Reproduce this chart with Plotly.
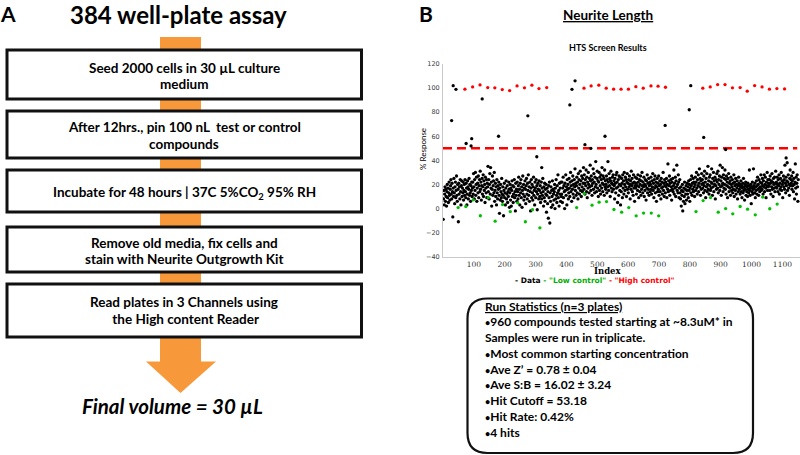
import plotly.graph_objects as go

# ---------------- data ----------------
plate_size = 384
data_plate1 = [
 -9, 8, 15, 3, 12, 18, 6, 16, 10, 2, 14, 20, 9, 17, 5, 13, 22, 11, 7, 16,
 19, 24, 12, 8, 21, 14, -7, 17, 10, 25, 13, 4, 18, 22, 9, 15, 27, 11, 6, 20,
 16, -11, 21, 12, 18, 8, 24, 14, 3, 19, 23, 10, 17, 13, 22, 7, 15, 20, 11, 24,
 14, 9, 21, 17, 3, 12, 23, 18, 8, 16, 25, 11, 20, 13, 6, 19, 15, 22, 10, 17,
 22, 12, 29, 18, 8, 24, 15, 30, 11, 20, 26, 6, 17, 21, 13, 27, 9, 19, 24, 14,
 31, 16, 22, 7, 19, 25, 12, 18, 28, 10, 23, 15, 20, 5, 26, 17, 13, 24, 9, 21,
 18, 35, 14, 24, 8, 20, 29, 12, 34, 17, 22, 2, 16, 27, 11, 19, 23, 13, 30, 6,
 15, 21, 10, 18, 3, 24, 13, 8, 19, 16, 22, 11, -4, 17, 7, 20, 14, 9, 25, 12,
 6, 18, 11, -6, 15, 21, 9, 13, 3, 17, 23, 8, 12, 19, 5, 14, 10, 22, 16, 1,
 13, 20, 7, 17, 2, 15, 23, 10, 19, 5, 12, 18, 24, 9, 14, -2, 21, 11, 16, 6,
 22, 14, 8, 19, 26, 11, 16, 3, 21, 13, 24, 9, 18, 1, 15, 27, 12, 20, 7, 17,
 10, 23, 16, 4, 19, 25, 12, 8, 21, 15, 28, 11, 18, 6, 22, 14, -2, 17, 24, 9,
 20, 13, 7, 18, 26, 11, 15, 3, 22, 17, 9, 24, 14, 19, -1, 12, 21, 16, 8, 23,
 15, 10, 19, 5, 13, 22, 8, 17, 11, 25, 14, 2, 18, 9, 21, 6, 16, 12, 20, -3,
 11, 17, 4, 14, -8, 19, 9, 22, -12, 13, 6, 18, 1, 15, 10, 23, 3, 16, 12, 7,
 14, 20, 0, 17, 8, 24, 11, 5, 19, 13, 28, 9, 15, 2, 21, 12, 17, 6, 22, 10,
]
data_plate2 = [
 12, 22, 5, 17, 26, 9, 19, 14, 0, 21, 15, 28, 11, 18, 3, 24, 16, 20, 8, 13,
 25, 17, 10, 22, 30, 14, 19, 6, 23, 16, 27, 12, 20, 9, 24, 18, 33, 15, 21, 11,
 19, 26, 13, 22, 8, 29, 17, 24, 12, 20, 31, 15, 23, 10, 27, 18, 14, 25, 21, 34,
 16, 28, 21, 12, 24, 19, 32, 14, 26, 9, 22, 17, 30, 20, 13, 25, 18, 36, 23, 15,
 27, 19, 11, 24, 21, 33, 16, 29, 22, 13, 26, 18, 39, 20, 14, 25, 31, 17, 23, 10,
 22, 30, 15, 26, 19, 12, 28, 24, 17, 34, 21, 14, 27, 20, 25, 11, 32, 18, 23, 16,
 20, 27, 13, 24, 18, 39, 22, 15, 29, 19, 25, 10, 23, 31, 17, 21, 14, 26, 20, 28,
 16, 23, 19, 8, 25, 21, 13, 28, 17, 30, 22, 5, 18, 24, 11, 27, 20, 15, 26, 3,
 19, 14, 25, 21, 9, 28, 17, 23, 12, 30, 20, 15, 26, 18, 24, 10, 22, 29, 16, 21,
 13, 24, 18, 27, 20, 8, 23, 16, 31, 19, 25, 14, 21, 11, 28, 17, 22, 6, 19, 26,
 17, 21, 12, 25, 19, 15, 28, 22, 9, 18, 24, 14, 20, 27, 11, 23, 16, 30, 19, 13,
 22, 18, 26, 10, 20, 15, 24, 19, 7, 23, 17, 28, 13, 21, 16, 25, 11, 19, 22, 14,
 20, 26, 16, 12, 23, 18, 29, 15, 21, 9, 24, 17, 27, 13, 19, 22, 6, 18, 25, 14,
 21, 16, 27, 11, 19, 23, 14, 20, 8, 25, 17, 22, 12, 18, 30, 15, 21, 10, 24, 19,
 13, 22, 18, 25, 9, 20, 16, 37, 14, 23, 19, 27, 11, 21, 15, 24, 18, 7, 22, 16,
 25, 14, 19, 32, 12, 21, 17, 26, 10, 23, 18, 36, 15, 20, 13, 28, 22, 9, 17, 24,
]
data_plate3 = [
 13, 8, 18, 2, 15, 11, 20, -2, 14, 6, 17, 10, 22, 4, 16, 12, 19, 7, 15, 21,
 12, 18, 9, 23, 15, 20, 6, 17, 24, 13, 19, 27, 11, 21, 16, 25, 14, 22, 18, 10,
 20, 26, 15, 22, 30, 17, 12, 24, 19, 28, 14, 21, 33, 18, 25, 11, 23, 16, 29, 20,
 24, 17, 21, 13, 27, 19, 31, 15, 22, 9, 25, 18, 29, 14, 20, 35, 16, 23, 12, 26,
 19, 28, 15, 22, 17, 33, 21, 11, 25, 18, 30, 14, 23, 20, 26, 8, 19, 24, 16, 29,
 22, 17, 31, 13, 24, 20, 27, 15, 36, 18, 23, 11, 26, 19, 34, 21, 14, 28, 17, 25,
 20, 32, 16, 24, 12, 27, 19, 22, 9, 25, 18, 29, 14, 21, 17, 23, 11, 26, 20, 15,
 18, 24, 13, 21, 16, 28, 10, 22, 19, 15, 25, 12, 20, 17, 23, 8, 19, 14, 26, 21,
 16, 20, 12, 18, 23, 14, 19, 9, 17, 21, 13, 25, 15, 18, 7, 20, 16, 22, 11, 19,
 14, 18, 10, 21, 16, 13, 19, 32, 15, 11, 17, 20, 4, 18, 14, 22, 12, 16, 33, 19,
 17, 13, 21, 9, 18, 15, 23, 12, 19, 26, 16, 20, 11, 24, 17, 14, 22, 18, 28, 15,
 21, 16, 25, 19, 12, 23, 18, 28, 14, 20, 26, 17, 9, 22, 19, 30, 15, 24, 18, 21,
 19, 24, 15, 27, 21, 12, 23, 18, 29, 16, 22, 10, 25, 20, 17, 26, 14, 21, 31, 18,
 22, 17, 26, 20, 14, 24, 19, 28, 12, 21, 16, 25, 18, 30, 15, 23, 20, 9, 22, 27,
 18, 24, 16, 36, 21, 13, 26, 19, 23, 38, 15, 22, 28, 17, 20, 11, 25, 32, 19, 24,
 21, 27, 16, 23, 19, 30, 14, 25, 20, 8, 22, 37, 17, 26, 12, 21, 28, 18, 6, 24,
]
outlier_index = [28, 33, 42, 75, 91, 93, 127, 180, 275, 304, 320, 411, 418, 428, 460, 479, 525, 720, 798, 803, 845, 916, 1112]
outlier_value = [73, 102, 99, 54, 52, 58, 91, 60, 77, 43, 34, 86, 99, 106, 53, 50, 60, 69, 82, 102, 59, 49, 42]

low_index = [49, 74, 98, 121, 147, 169, 193, 218, 242, 267, 290, 314,
             433, 458, 483, 506, 530, 554, 579, 602, 626, 650, 675, 699,
             820, 843, 867, 892, 916, 939, 963, 987, 1012, 1036, 1059, 1083]
low_value = [0.8, 1.7, 7.2, -6, 9.1, -10.5, 3.3, -2.5, 4.7, -11, -1, -16,
             0.8, 12.4, 2.8, 5.3, 5.8, -0.8, -3, 0.8, -6.1, -3.8, -3.8, -6.1,
             -2.5, 6.6, 9.1, -3, 0, -4.4, 1.7, -0.5, -5.2, 9.5, -0.2, 3.7]
high_index = [71, 96, 120, 145, 168, 192, 216, 240, 264, 288, 311, 336,
              457, 480, 505, 529, 553, 577, 601, 625, 649, 674, 697, 721,
              842, 866, 890, 914, 938, 963, 986, 1010, 1034, 1058, 1082, 1107]
high_value = [99.1, 101, 102.6, 100.4, 100.2, 98.8, 97.9, 101.8, 100.2, 102.4, 99.6, 100.4,
              99.9, 101.8, 102.4, 99.9, 99.1, 99.1, 99.1, 101.2, 99.9, 101.8, 101.6, 100.7,
              99.9, 101, 102.9, 102.9, 100.2, 100.4, 97.4, 102.1, 101, 99.1, 99.6, 99.3]
cutoff_x = [0, 1148]
cutoff_y = [50, 50]

y_ticks = [-40, -20, 0, 20, 40, 60, 80, 100, 120]
x_ticks = [100, 200, 300, 400, 500, 600, 700, 800, 900, 1000, 1100]

steps = [
    "Seed 2000 cells in 30 µL culture<br>medium",
    "After 12hrs., pin 100 nL  test or control<br>compounds",
    "Incubate for 48 hours | 37C 5%CO<sub>2</sub> 95% RH",
    "Remove old media, fix cells and<br>stain with Neurite Outgrowth Kit",
    "Read plates in 3 Channels using<br> the High content Reader",
]
BUL = "<span style='font-size:9px'>•</span>"
stats_lines = [
    "<u>Run Statistics (n=3 plates)</u>",
    BUL + "960 compounds tested starting at ~8.3uM* in",
    "Samples were run in triplicate.",
    BUL + "Most common starting concentration",
    BUL + "Ave Z’ = 0.78 ± 0.04",
    BUL + "Ave S:B = 16.02 ± 3.24",
    BUL + "Hit Cutoff = 53.18",
    BUL + "Hit Rate: 0.42%",
    BUL + "4 hits",
]

# ---------------- layout helpers ----------------
W, H = 800, 455
FONT = "Lato"
ORANGE = "#F7993A"


def px(x):
    return x / W


def py(y):
    return 1 - y / H


fig = go.Figure()

plates = [data_plate1, data_plate2, data_plate3]
dx, dy = [], []
for p, vals in enumerate(plates):
    n = len(vals)
    for k, v in enumerate(vals):
        dx.append(p * plate_size + (k + 0.5) * plate_size / n)
        dy.append(v)
dx += outlier_index
dy += outlier_value

mk = dict(size=3.3, line=dict(width=0))
fig.add_trace(go.Scatter(x=cutoff_x, y=cutoff_y, mode="lines",
                         line=dict(color="#FF0000", width=2.6, dash="9px,5px"),
                         hoverinfo="skip", showlegend=False))
fig.add_trace(go.Scatter(x=dx, y=dy, mode="markers", marker=dict(color="#000000", **mk),
                         showlegend=False, name="Data"))
fig.add_trace(go.Scatter(x=low_index, y=low_value, mode="markers",
                         marker=dict(color="#00C000", **mk), showlegend=False, name="Low control"))
fig.add_trace(go.Scatter(x=high_index, y=high_value, mode="markers",
                         marker=dict(color="#FF0000", **mk), showlegend=False, name="High control"))

fig.update_layout(
    width=W, height=H, margin=dict(l=0, r=0, t=0, b=0, autoexpand=False),
    paper_bgcolor="white", plot_bgcolor="white",
    font=dict(family=FONT, color="#000000"),
    xaxis=dict(domain=[px(443), 1.0], range=[0, 1157], tickvals=x_ticks, automargin=False,
               showgrid=False, zeroline=False, showline=True, linecolor="#C8C8C8",
               linewidth=1, ticks="", ticklabelstandoff=0,
               tickfont=dict(size=7.5, color="#333333", family="DejaVu Serif")),
    yaxis=dict(domain=[py(256.7), py(64)], range=[-40, 120], tickvals=y_ticks, automargin=False,
               showgrid=False, zeroline=False, showline=True, linecolor="#C8C8C8",
               linewidth=1, ticks="", ticklabelstandoff=1,
               tickfont=dict(size=6.5, color="#404040", family="DejaVu Sans")),
)

shapes = []
shapes.append(dict(type="rect", xref="paper", yref="paper", x0=px(160), x1=px(201),
                   y0=py(37), y1=py(362), fillcolor=ORANGE, line=dict(width=0)))
shapes.append(dict(type="path", xref="paper", yref="paper",
                   path=f"M {px(146)},{py(361.5)} L {px(216)},{py(361.5)} L {px(180.5)},{py(393)} Z",
                   fillcolor=ORANGE, line=dict(width=0)))
box_y = [(50, 99), (111, 158), (170, 212), (227, 272), (284, 337)]
line_pos = [[67.7, 84.3], [127, 144], [193], [242.7, 259.3], [302.3, 319.3]]
for (y0, y1) in box_y:
    shapes.append(dict(type="rect", xref="paper", yref="paper", x0=px(7), x1=px(361.5),
                       y0=py(y0), y1=py(y1), fillcolor="white",
                       line=dict(color="#111111", width=3)))
L, R, T, B, r = 467.5, 753, 298.5, 453, 20
path = (f"M {px(L + r)},{py(T)} L {px(R - r)},{py(T)} Q {px(R)},{py(T)} {px(R)},{py(T + r)} "
        f"L {px(R)},{py(B - r)} Q {px(R)},{py(B)} {px(R - r)},{py(B)} "
        f"L {px(L + r)},{py(B)} Q {px(L)},{py(B)} {px(L)},{py(B - r)} "
        f"L {px(L)},{py(T + r)} Q {px(L)},{py(T)} {px(L + r)},{py(T)} Z")
shapes.append(dict(type="path", xref="paper", yref="paper", path=path,
                   fillcolor="white", line=dict(color="#111111", width=2.2)))
fig.update_layout(shapes=shapes)

ann = []


def text(x, y, s, size, anchor="center", color="#000000", family=FONT, align="center"):
    ann.append(dict(x=px(x), y=py(y), xref="paper", yref="paper", text=s, showarrow=False,
                    xanchor=anchor, yanchor="middle", align=align,
                    font=dict(size=size, color=color, family=family)))


text(8, 13, "<b>A</b>", 21)
text(426, 13, "<b>B</b>", 21)
text(178.5, 14, "<b>384 well-plate assay</b>", 24)
for s, ys in zip(steps, line_pos):
    for ln, yy in zip(s.split("<br>"), ys):
        text(184, yy, "<b>" + ln + "</b>", 13.5)
text(172, 406, "<b><i>Final volume = 30 µL</i></b>", 20.5)

text(607.5, 15, "<b><u>Neurite Length</u></b>", 13.5)
text(608, 47.5, "<b>HTS Screen Results</b>", 9)
text(608, 270.5, "<b>Index</b>", 8.5, family="DejaVu Serif")
text(595, 280.5, "<b>- Data <span style='color:#00B000'>- \"Low control\"</span> "
                 "<span style='color:#FF0000'>- \"High control\"</span></b>", 7.5,
     family="DejaVu Sans")
ann.append(dict(x=px(423), y=py(149), xref="paper", yref="paper", text="% Response",
                showarrow=False, textangle=-90, xanchor="center", yanchor="middle",
                font=dict(size=8, family=FONT, color="#000000")))

stat_y = [306.7, 321.9, 337.5, 353.2, 369, 384.8, 400.6, 416.3, 432]
for s, yy in zip(stats_lines, stat_y):
    text(482.5, yy, "<b>" + s + "</b>", 12, anchor="left", align="left")

fig.update_layout(annotations=ann)
fig.write_html("out.html", config={"displayModeBar": False},
               post_script="document.body.style.margin='0';")
